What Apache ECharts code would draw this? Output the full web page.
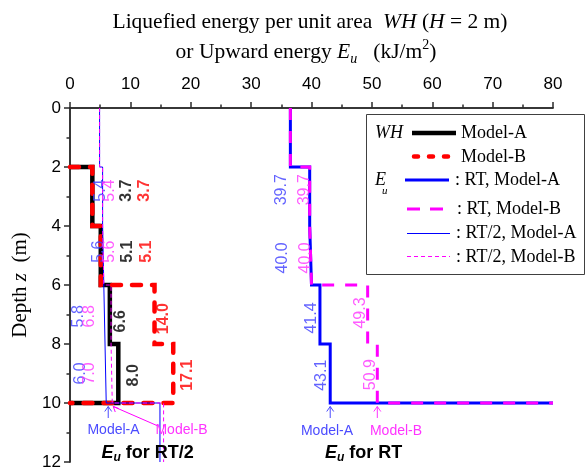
<!DOCTYPE html>
<html>
<head>
<meta charset="utf-8">
<script src="https://cdn.jsdelivr.net/npm/echarts@6/dist/echarts.min.js"></script>
<style>
  html, body { margin: 0; padding: 0; background: #fff; }
  #chart { width: 586px; height: 472px; }
</style>
</head>
<body>
<div id="chart"></div>
<script>
// ---- Data: 2 m layers from the surface down to the base at 10 m ----
const layerTops    = [0, 2, 4, 6, 8];
const layerBottoms = [2, 4, 6, 8, 10];
const baseDepth = 10;
const maxDepth = 12;

// Liquefied energy per unit area WH (kJ/m2); 0 = not liquefied
const whModelA = [0, 3.7, 5.1, 6.6, 8.0];
const whModelB = [0, 3.7, 5.1, 14.0, 17.1];

// Upward energy Eu (kJ/m2) for RT and RT/2
const euRtModelA   = [36.5, 39.7, 40.0, 41.4, 43.1];
const euRtModelB   = [36.5, 39.7, 40.0, 49.3, 50.9];
const euHalfModelA = [4.9, 5.4, 5.6, 5.8, 6.0];
const euHalfModelB = [4.9, 5.4, 5.6, 6.8, 7.0];

// Eu below the base of the layered deposit
const euRtBelowBase = 80;
const euHalfBelowBaseA = 14.9;
const euHalfBelowBaseB = 15.5;

// Axis ticks
const energyTicks = [0, 10, 20, 30, 40, 50, 60, 70, 80];
const depthTicks  = [0, 2, 4, 6, 8, 10, 12];

// ---- Helpers ----
const SANS = '"Liberation Sans", Arial, sans-serif';
const SERIF = '"Liberation Serif", "Times New Roman", serif';

// Step profile: vertical segment at each layer value, joined by horizontal steps
function stepProfile(values, startDepth, tail) {
  const pts = [];
  let started = false;
  for (let i = 0; i < values.length; i++) {
    if (!values[i]) continue;
    if (!started) {
      if (startDepth != null) pts.push([0, layerTops[i]]);
      started = true;
    }
    pts.push([values[i], layerTops[i]]);
    pts.push([values[i], layerBottoms[i]]);
  }
  tail.forEach(p => pts.push(p));
  return pts;
}

const paths = {
  whA: stepProfile(whModelA, 0, [[0, baseDepth]]),
  whB: stepProfile(whModelB, 0, [[0, baseDepth]]),
  rtA: stepProfile(euRtModelA, null, [[euRtBelowBase, baseDepth]]),
  rtB: stepProfile(euRtModelB, null, [[euRtBelowBase, baseDepth]]),
  halfA: stepProfile(euHalfModelA, null, [[euHalfBelowBaseA, baseDepth], [euHalfBelowBaseA, maxDepth]]),
  halfB: stepProfile(euHalfModelB, null, [[euHalfBelowBaseB, baseDepth], [euHalfBelowBaseB, maxDepth]])
};

// Where the value labels of layers 2-10 m sit (x in kJ/m2, y in m)
const labelSpots = {
  halfA: [[5.05, 2.80], [4.69, 4.87], [1.49, 7.06], [1.77, 9.00]],
  halfB: [[6.58, 2.80], [6.63, 4.87], [3.31, 7.06], [3.31, 9.00]],
  whA:   [[9.40, 2.80], [9.53, 4.87], [8.40, 7.23], [10.49, 9.06]],
  whB:   [[12.43, 2.80], [12.76, 4.87], [15.46, 7.14], [19.50, 9.06]],
  rtA:   [[35.10, 2.77], [35.20, 5.08], [40.06, 7.12], [41.70, 9.06]],
  rtB:   [[38.90, 2.77], [39.06, 5.08], [48.20, 6.95], [49.80, 9.04]]
};

function lineSeries(name, data, color, width, type, cap) {
  return {
    name, type: 'line', data,
    xAxisIndex: 0, yAxisIndex: 0,
    symbol: 'none', silent: true, animation: false,
    lineStyle: { color, width, type, cap: cap || 'butt', join: 'miter' }
  };
}

function labelSeries(spots, values, color, bold) {
  return {
    type: 'scatter', xAxisIndex: 0, yAxisIndex: 0,
    symbolSize: 0, silent: true, animation: false, z: 5,
    data: spots.map((s, k) => [s[0], s[1], values[k + 1].toFixed(1)]),
    label: {
      show: true, position: 'inside', rotate: 90,
      formatter: p => p.value[2],
      color, fontSize: 16, fontFamily: SANS,
      fontWeight: bold ? 'bold' : 'normal'
    }
  };
}

const axisLine = { show: true, lineStyle: { color: '#2b2b2b', width: 1.5 } };
const tickStyle = { color: '#2b2b2b', width: 1.5 };

const chart = echarts.init(document.getElementById('chart'), null, { renderer: 'canvas' });

const option = {
  backgroundColor: '#fff',
  animation: false,
  grid: { left: 70, right: 33, top: 108, bottom: 10, containLabel: false },
  xAxis: [
    {
      type: 'value', position: 'top', min: energyTicks[0], max: energyTicks[energyTicks.length - 1],
      interval: energyTicks[1] - energyTicks[0],
      axisLine, splitLine: { show: false },
      axisTick: { show: true, inside: false, length: 6, lineStyle: tickStyle },
      minorTick: { show: true, splitNumber: 2, length: 3.5, lineStyle: tickStyle },
      axisLabel: { show: true, margin: 15, color: '#000', fontSize: 17, fontFamily: SANS }
    },
    {
      type: 'value', position: 'bottom', min: energyTicks[0], max: energyTicks[energyTicks.length - 1],
      interval: energyTicks[1] - energyTicks[0],
      axisLine, splitLine: { show: false },
      axisTick: { show: true, inside: true, length: 6, lineStyle: tickStyle },
      minorTick: { show: true, splitNumber: 2, length: 3.5, lineStyle: tickStyle },
      axisLabel: { show: false }
    }
  ],
  yAxis: [
    {
      type: 'value', inverse: true, position: 'left',
      min: depthTicks[0], max: depthTicks[depthTicks.length - 1],
      interval: depthTicks[1] - depthTicks[0],
      axisLine, splitLine: { show: false },
      axisTick: { show: true, inside: false, length: 6, lineStyle: tickStyle },
      minorTick: { show: true, splitNumber: 2, length: 3.5, lineStyle: tickStyle },
      axisLabel: { show: true, margin: 9, color: '#000', fontSize: 17, fontFamily: SANS },
      name: '{n|Depth }{i|z}{n|  (m)}',
      nameLocation: 'middle', nameRotate: 90, nameGap: 36,
      nameTextStyle: {
        rich: {
          n: { fontFamily: SERIF, fontSize: 21, color: '#000' },
          i: { fontFamily: SERIF, fontSize: 21, fontStyle: 'italic', color: '#000' }
        }
      }
    },
    {
      type: 'value', inverse: true, position: 'right',
      min: depthTicks[0], max: depthTicks[depthTicks.length - 1],
      interval: depthTicks[1] - depthTicks[0],
      axisLine, splitLine: { show: false },
      axisTick: { show: true, inside: true, length: 6, lineStyle: tickStyle },
      minorTick: { show: true, splitNumber: 2, length: 3.5, lineStyle: tickStyle },
      axisLabel: { show: false }
    }
  ],
  series: [
    lineSeries('WH Model-A', paths.whA, '#000000', 4.5, 'solid'),
    lineSeries('WH Model-B', paths.whB, '#ff0000', 4.5, [9, 11], 'round'),
    lineSeries('Eu RT Model-A', paths.rtA, '#0000ff', 3, 'solid'),
    lineSeries('Eu RT Model-B', paths.rtB, '#ff00ff', 3, [12, 11]),
    lineSeries('Eu RT/2 Model-A', paths.halfA, '#0000ff', 1, 'solid'),
    lineSeries('Eu RT/2 Model-B', paths.halfB, '#ff00ff', 1, [4, 3]),
    labelSeries(labelSpots.halfA, euHalfModelA, '#3c3cff', false),
    labelSeries(labelSpots.halfB, euHalfModelB, '#ff33ff', false),
    labelSeries(labelSpots.whA, whModelA, '#000000', true),
    labelSeries(labelSpots.whB, whModelB, '#ff0000', true),
    labelSeries(labelSpots.rtA, euRtModelA, '#3c3cff', false),
    labelSeries(labelSpots.rtB, euRtModelB, '#ff33ff', false)
  ]
};
chart.setOption(option);

// ---- Title, legend and annotations ----
const serifRich = {
  n: { fontFamily: SERIF, fontSize: 21.5, color: '#000', lineHeight: 28 },
  i: { fontFamily: SERIF, fontSize: 21.5, fontStyle: 'italic', color: '#000', lineHeight: 28 },
  sub: { fontFamily: SERIF, fontSize: 14, fontStyle: 'italic', color: '#000', lineHeight: 14, verticalAlign: 'bottom' },
  sup: { fontFamily: SERIF, fontSize: 14, color: '#000', lineHeight: 14, verticalAlign: 'top' }
};

function legendLine(x1, x2, y, color, width, dash, cap) {
  return {
    type: 'line', z: 101,
    shape: { x1, y1: y, x2, y2: y },
    style: { stroke: color, lineWidth: width, lineDash: dash || null, lineCap: cap || 'butt' }
  };
}
function legendText(x, y, text) {
  return {
    type: 'text', z: 101, x, y,
    style: { text, fontFamily: SERIF, fontSize: 18, fill: '#000', verticalAlign: 'middle', align: 'left' }
  };
}

const px = (x, y) => chart.convertToPixel({ xAxisIndex: 0, yAxisIndex: 0 }, [x, y]);

function upArrow(x, yTip, yTail, color) {
  return [
    { type: 'line', z: 20, shape: { x1: x, y1: yTip, x2: x, y2: yTail }, style: { stroke: color, lineWidth: 1 } },
    { type: 'polyline', z: 20, shape: { points: [[x - 3.5, yTip + 5], [x, yTip], [x + 3.5, yTip + 5]] }, style: { stroke: color, lineWidth: 1, fill: null } }
  ];
}

const baseY = px(0, baseDepth)[1];
const tipY = baseY + 3.5;
const tailY = baseY + 15;
const halfAx = px(euHalfModelA[4], baseDepth)[0] + 2;
const halfBx = px(euHalfModelB[4], baseDepth)[0] + 1;
const rtAx = px(euRtModelA[4], baseDepth)[0];
const rtBx = px(euRtModelB[4], baseDepth)[0];

const noteText = (x, y, text, color) => ({
  type: 'text', z: 20, x, y,
  style: { text, fontFamily: SANS, fontSize: 14, fill: color, align: 'center', verticalAlign: 'middle' }
});
const boldRich = {
  e: { fontFamily: SANS, fontSize: 18, fontWeight: 'bold', fontStyle: 'italic', color: '#000', lineHeight: 22 },
  u: { fontFamily: SANS, fontSize: 12, fontWeight: 'bold', fontStyle: 'italic', color: '#000', lineHeight: 12, verticalAlign: 'bottom' },
  t: { fontFamily: SANS, fontSize: 18, fontWeight: 'bold', color: '#000', lineHeight: 22 }
};

const halfBDiag = [
  { type: 'line', z: 20, shape: { x1: halfBx, y1: tipY, x2: 158, y2: 426 }, style: { stroke: '#ff00ff', lineWidth: 1 } },
  { type: 'polyline', z: 20, shape: { points: [[halfBx + 2, tipY + 5.5], [halfBx, tipY], [halfBx + 5.5, tipY + 2]] }, style: { stroke: '#ff00ff', lineWidth: 1, fill: null } }
];

chart.setOption({
  graphic: [
    {
      type: 'text', x: 310, y: 22,
      style: {
        text: '{n|Liquefied energy per unit area  }{i|WH}{n| (}{i|H}{n| = 2 m)}',
        rich: serifRich, align: 'center', verticalAlign: 'middle'
      }
    },
    {
      type: 'text', x: 306, y: 52,
      style: {
        text: '{n|or Upward energy }{i|E}{sub|u}{n|   (kJ/m}{sup|2}{n|)}',
        rich: serifRich, align: 'center', verticalAlign: 'middle'
      }
    },
    // legend box
    {
      type: 'rect', z: 100,
      shape: { x: 366.5, y: 114.5, width: 218, height: 160 },
      style: { fill: '#fff', stroke: '#404040', lineWidth: 1 }
    },
    {
      type: 'text', z: 101, x: 375, y: 133,
      style: { text: 'WH', fontFamily: SERIF, fontSize: 18, fontStyle: 'italic', fill: '#000', verticalAlign: 'middle' }
    },
    legendLine(412, 456, 133, '#000', 4.5),
    legendText(461, 133, 'Model-A'),
    legendLine(414, 454, 156.5, '#ff0000', 4.5, [4, 11], 'round'),
    legendText(461, 157, 'Model-B'),
    {
      type: 'text', z: 101, x: 375, y: 180,
      style: { text: 'E', fontFamily: SERIF, fontSize: 18, fontStyle: 'italic', fill: '#000', verticalAlign: 'middle' }
    },
    {
      type: 'text', z: 101, x: 382, y: 191,
      style: { text: 'u', fontFamily: SERIF, fontSize: 11, fontStyle: 'italic', fill: '#000', verticalAlign: 'middle' }
    },
    legendLine(405, 449, 180, '#0000ff', 3),
    legendText(455, 180, ': RT, Model-A'),
    legendLine(407, 443, 209, '#ff00ff', 3, [13, 10]),
    legendText(457, 209, ': RT, Model-B'),
    legendLine(407, 450, 233.5, '#0000ff', 1),
    legendText(456, 233, ': RT/2, Model-A'),
    legendLine(407, 450, 256.5, '#ff00ff', 1, [4, 3]),
    legendText(456, 257, ': RT/2, Model-B'),
    // annotations below the base
    ...upArrow(halfAx, tipY, tailY, '#4b4bff'),
    ...halfBDiag,
    ...upArrow(rtAx, tipY, tailY, '#4b4bff'),
    ...upArrow(rtBx, tipY, tailY, '#ff33ff'),
    noteText(113.5, 430, 'Model-A', '#4b4bff'),
    noteText(181.5, 430, 'Model-B', '#ff33ff'),
    noteText(327, 431, 'Model-A', '#4b4bff'),
    noteText(396, 431, 'Model-B', '#ff33ff'),
    {
      type: 'text', z: 20, x: 101.5, y: 453,
      style: { text: '{e|E}{u|u}{t| for RT/2}', rich: boldRich, align: 'left', verticalAlign: 'middle' }
    },
    {
      type: 'text', z: 20, x: 325, y: 453,
      style: { text: '{e|E}{u|u}{t| for RT}', rich: boldRich, align: 'left', verticalAlign: 'middle' }
    }
  ]
});
</script>
</body>
</html>
